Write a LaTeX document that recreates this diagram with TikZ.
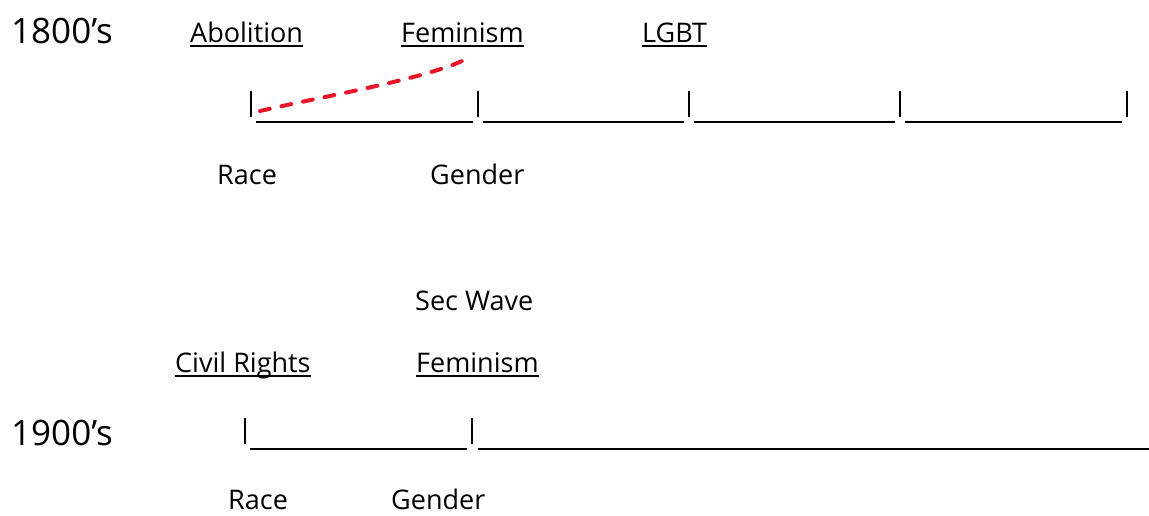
\documentclass[tikz,border=0pt]{standalone}
\usepackage{fontspec}
\setmainfont{Open Sans}
\definecolor{penred}{RGB}{232,22,40}
\tikzset{
  lbl/.style={anchor=base west, inner sep=0pt, font=\fontsize{27}{32}\selectfont},
  era/.style={anchor=base west, inner sep=0pt, font=\fontsize{35}{42}\selectfont},
  uline/.style={line width=2pt},
  tline/.style={line width=2pt},
  tick/.style={line width=2.5pt},
  ink/.style={penred, line width=4pt, line cap=round, dash pattern=on 10pt off 12pt}
}
\begin{document}
\begin{tikzpicture}[x=1pt,y=-1pt]
  \useasboundingbox (0,0) rectangle (1149,515);

  % 1800s
  \node[era] (e1) at (11,43) {1800’s};
  \node[lbl] (abol) at (190,42) {Abolition};
  \node[lbl] (fem) at (401,42) {Feminism};
  \node[lbl] (lgbt) at (642,42) {LGBT};

  \foreach \i/\x in {0/251,1/478,2/689,3/900,4/1127} {
    \coordinate (a\i) at (\x,121.5);
    \draw[tick] (\x,117) -- (\x,91);
  }
  \foreach \i/\j in {0/1,1/2,2/3,3/4}
    \draw[tline] ([xshift=5pt]a\i) -- ([xshift=-5pt]a\j);

  \node[lbl] (race1) at (217,184) {Race};
  \node[lbl] (gen1) at (430,184) {Gender};

  % red pen stroke
  \coordinate (r0) at (260,111);
  \coordinate (r1) at (462,61);
  \draw[ink] (r0) .. controls (320,97) and (420,80) .. (r1);

  % 1900s
  \node[lbl] (sec) at (415,310) {Sec Wave};
  \node[lbl] (civ) at (175,372) {Civil Rights};
  \node[lbl] (fem2) at (416,372) {Feminism};
  \node[era] (e2) at (11,445) {1900’s};

  \foreach \i/\x in {0/245,1/472} {
    \coordinate (b\i) at (\x,449);
    \draw[tick] (\x,444) -- (\x,418);
  }
  \coordinate (bend) at (1149,449);
  \draw[tline] ([xshift=5pt]b0) -- ([xshift=-5pt]b1);
  \draw[tline] ([xshift=6pt]b1) -- (bend);

  \node[lbl] (race2) at (228,509) {Race};
  \node[lbl] (gen2) at (391,509) {Gender};

  \foreach \n in {abol,fem,lgbt,civ,fem2}
    \draw[uline] ([yshift=-4pt]\n.base west) -- ([yshift=-4pt]\n.base east);

\end{tikzpicture}
\end{document}
